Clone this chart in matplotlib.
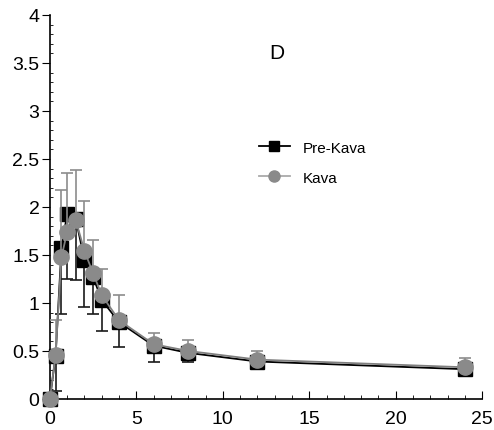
import matplotlib.pyplot as plt
from matplotlib.ticker import MultipleLocator, FuncFormatter
from matplotlib.lines import Line2D

plt.rcParams['font.family'] = ['Liberation Sans', 'DejaVu Sans']

# time points (h)
hours = [0, 0.33, 0.67, 1, 1.5, 2, 2.5, 3, 4, 6, 8, 12, 24]

# Pre-Kava means and lower error bars
pre_kava = [0, 0.45, 1.57, 1.93, 1.87, 1.45, 1.27, 1.03, 0.80, 0.555, 0.48, 0.39, 0.31]
pre_kava_lower = [0, 0.37, 0.69, 0.68, 0.63, 0.49, 0.38, 0.32, 0.26, 0.165, 0.10, 0.08, 0.07]

# Kava means and upper error bars
kava = [0, 0.46, 1.48, 1.74, 1.86, 1.54, 1.31, 1.08, 0.82, 0.57, 0.50, 0.41, 0.33]
kava_upper = [0, 0.36, 0.70, 0.61, 0.53, 0.52, 0.35, 0.27, 0.26, 0.12, 0.11, 0.09, 0.10]

zeros = [0] * len(hours)

fig = plt.figure(figsize=(4.94, 4.31), dpi=100)
ax = fig.add_axes([0.101, 0.072, 0.875, 0.891])

ax.errorbar(hours, pre_kava, yerr=[pre_kava_lower, zeros], color='black',
            ecolor='#1a1a1a', elinewidth=1.2, capsize=4, capthick=1.2,
            marker='s', markersize=10, lw=1.3, zorder=2, clip_on=False)
ax.errorbar(hours, kava, yerr=[zeros, kava_upper], color='#7f7f7f',
            mfc='#8a8a8a', mec='#8a8a8a', ecolor='#8c8c8c', elinewidth=1.2,
            capsize=4, capthick=1.2, marker='o', markersize=11, lw=1.3,
            zorder=3, clip_on=False)

ax.set_xlim(0, 25)
ax.set_ylim(0, 4)
ax.spines['top'].set_visible(False)
ax.spines['right'].set_visible(False)
ax.xaxis.set_major_locator(MultipleLocator(5))
ax.xaxis.set_minor_locator(MultipleLocator(1))
ax.yaxis.set_major_locator(MultipleLocator(0.5))
ax.yaxis.set_minor_locator(MultipleLocator(0.1))
ax.yaxis.set_major_formatter(FuncFormatter(lambda v, p: '%g' % v))
ax.tick_params(axis='x', which='major', direction='in', length=6, labelsize=14, pad=8)
ax.tick_params(axis='x', which='minor', direction='in', length=3)
ax.tick_params(axis='y', which='major', direction='out', length=6, labelsize=14, pad=1.5)
ax.tick_params(axis='y', which='minor', direction='in', length=2)
for sp in ax.spines.values():
    sp.set_linewidth(1.2)

ax.text(13.1, 3.61, 'D', fontsize=15, ha='center', va='center')

handles = [
    Line2D([], [], color='black', marker='s', markersize=7, lw=1.3),
    Line2D([], [], color='#aaaaaa', marker='o', mfc='#8a8a8a', mec='#8a8a8a',
           markersize=8, lw=1.3),
]
ax.legend(handles, ['Pre-Kava', 'Kava'], loc='center left',
          bbox_to_anchor=(0.484, 0.615), frameon=False, fontsize=11,
          handlelength=2.0, handletextpad=0.85, labelspacing=1.05,
          borderpad=0, borderaxespad=0)

fig.savefig('out.png', dpi=100)
